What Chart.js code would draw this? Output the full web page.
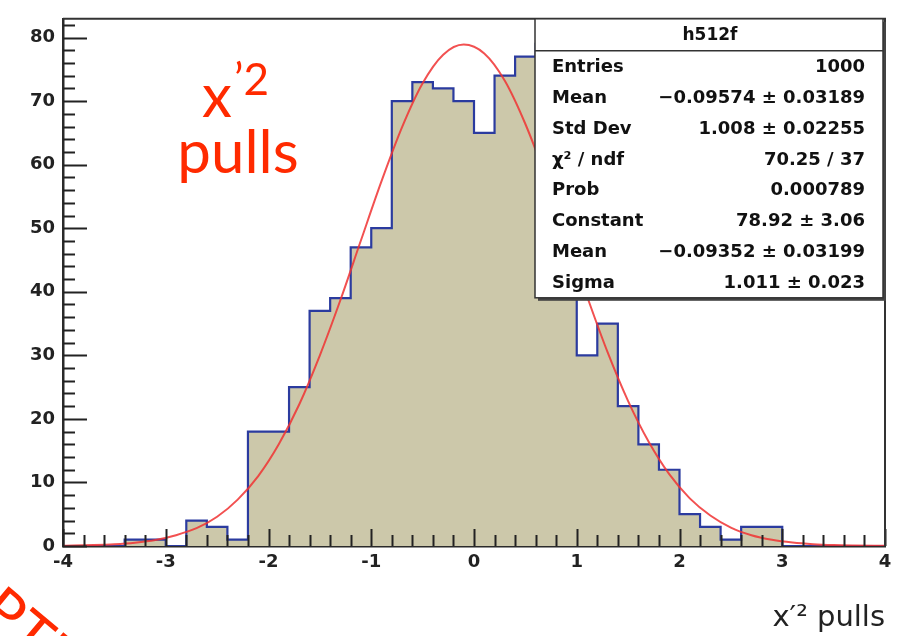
<!DOCTYPE html>
<html><head><meta charset="utf-8">
<script src="https://cdn.jsdelivr.net/npm/chart.js@4/dist/chart.umd.min.js"></script>
<style>html,body{margin:0;padding:0;background:#fff;} canvas{display:block;}</style>
</head><body>
<canvas id="c" width="908" height="636"></canvas>
<script>
// ---- data ----
const binLowEdges = [-4.0,-3.8,-3.6,-3.4,-3.2,-3.0,-2.8,-2.6,-2.4,-2.2,-2.0,-1.8,-1.6,-1.4,-1.2,-1.0,-0.8,-0.6,-0.4,-0.2,0.0,0.2,0.4,0.6,0.8,1.0,1.2,1.4,1.6,1.8,2.0,2.2,2.4,2.6,2.8,3.0,3.2,3.4,3.6,3.8];
const binHighEdge = 4.0;
const binCounts = [0,0,0,1,1,0,4,3,1,18,18,25,37,39,47,50,70,73,72,70,65,74,77,79,46,30,35,22,16,12,5,3,1,3,3,0,0,0,0,0];
const fitX = [-4.0,-3.9,-3.7,-3.5,-3.3,-3.1,-2.9,-2.7,-2.5,-2.3,-2.1,-1.9,-1.7,-1.5,-1.3,-1.1,-0.9,-0.7,-0.5,-0.3,-0.1,0.1,0.3,0.5,0.7,0.9,1.1,1.3,1.5,1.7,1.9,2.1,2.3,2.5,2.7,2.9,3.1,3.3,3.5,3.7,3.9,4.0];
const fitY = [0.05,0.07,0.14,0.27,0.52,0.95,1.7,2.8,4.6,7.3,11.0,16.0,22.3,30.0,38.7,48.1,57.4,65.9,72.8,77.3,78.9,77.5,73.2,66.4,58.0,48.7,39.3,30.5,22.8,16.4,11.3,7.5,4.8,2.9,1.7,0.98,0.54,0.28,0.14,0.07,0.03,0.02];
const xTickLabels = ['-4','-3','-2','-1','0','1','2','3','4'];
const yTickLabels = ['0','10','20','30','40','50','60','70','80'];
const histName = 'h512f';
const statLabels = ['Entries','Mean','Std Dev','\u03C7\u00B2 / ndf','Prob','Constant','Mean','Sigma'];
const statValues = ['1000','\u22120.09574 \u00B1 0.03189','1.008 \u00B1 0.02255','70.25 / 37','0.000789','78.92 \u00B1 3.06','\u22120.09352 \u00B1 0.03199','1.011 \u00B1 0.023'];
const xTitle = 'x\u2032\u00B2 pulls';
const noteLine1 = 'x';
const noteSup = '\u20192';
const noteLine2 = 'pulls';
const noteFragment = 'OPTI';

// ---- build ----
const histPoints = binLowEdges.map((x, i) => ({x: x, y: binCounts[i]}));
histPoints.push({x: binHighEdge, y: 0});
const fitPoints = fitX.map((x, i) => ({x: x, y: fitY[i]}));

const labelFont = {family: "'DejaVu Sans'", size: 18, weight: 'bold'};

const rootStyle = {
  id: 'rootStyle',
  afterDraw(chart) {
    const {ctx, chartArea: a, scales} = chart;
    const x = scales.x, y = scales.y;
    ctx.save();
    // inward tick marks
    ctx.strokeStyle = '#222';
    ctx.lineWidth = 2;
    ctx.beginPath();
    const nx = Math.round((x.max - x.min) / 0.2);
    for (let k = 0; k <= nx; k++) {
      const px = Math.round(x.getPixelForValue(x.min + k * 0.2)) + 0.5;
      const len = (k % 5 === 0) ? 17 : 11;
      ctx.moveTo(px, a.bottom);
      ctx.lineTo(px, a.bottom - len);
    }
    for (let k = 0; k * 2 <= y.max; k++) {
      const py = Math.round(y.getPixelForValue(k * 2)) + 0.5;
      const len = (k % 5 === 0) ? 24 : 12;
      ctx.moveTo(a.left, py);
      ctx.lineTo(a.left + len, py);
    }
    ctx.stroke();
    // frame top and right
    ctx.strokeStyle = '#333';
    ctx.lineWidth = 2;
    ctx.beginPath();
    ctx.moveTo(a.left, a.top);
    ctx.lineTo(a.right, a.top);
    ctx.lineTo(a.right, a.bottom);
    ctx.stroke();

    // stats box
    const bx1 = a.right - 2, by0 = a.top, bx0 = bx1 - 348, by1 = by0 + 279;
    ctx.fillStyle = '#444';
    ctx.fillRect(bx0 + 3, by0 + 3, bx1 - bx0, by1 - by0);
    ctx.fillStyle = '#fff';
    ctx.fillRect(bx0, by0, bx1 - bx0, by1 - by0);
    ctx.strokeStyle = '#333';
    ctx.lineWidth = 1.5;
    ctx.strokeRect(bx0, by0, bx1 - bx0, by1 - by0);
    const sep = by0 + 32;
    ctx.beginPath();
    ctx.moveTo(bx0, sep); ctx.lineTo(bx1, sep);
    ctx.stroke();
    ctx.fillStyle = '#111';
    ctx.font = "bold 17px 'DejaVu Sans'";
    ctx.textBaseline = 'middle';
    ctx.textAlign = 'center';
    ctx.fillText(histName, (bx0 + bx1) / 2 + 1, by0 + 17);
    const rowH = (by1 - sep) / statLabels.length;
    ctx.font = "bold 18px 'DejaVu Sans'";
    statLabels.forEach((lab, i) => {
      const cy = sep + rowH * (i + 0.5) + 1;
      ctx.textAlign = 'left';
      ctx.fillText(lab, bx0 + 17, cy);
      ctx.textAlign = 'right';
      ctx.fillText(statValues[i], bx1 - 18, cy);
    });

    // red annotation
    ctx.fillStyle = '#ff2a00';
    ctx.textBaseline = 'alphabetic';
    ctx.textAlign = 'left';
    ctx.font = "60px Lato";
    ctx.fillText(noteLine1, 202, 117);
    ctx.font = "44px Lato";
    ctx.fillText(noteSup, 234, 95);
    ctx.font = "60px Lato";
    ctx.textAlign = 'center';
    ctx.fillText(noteLine2, 238, 173);
    // clipped fragment at bottom-left
    ctx.save();
    ctx.translate(-60, 585);
    ctx.rotate(40 * Math.PI / 180);
    ctx.textAlign = 'left';
    ctx.font = "60px Lato";
    ctx.fillText(noteFragment, 0, 0);
    ctx.restore();
    ctx.restore();
  }
};

new Chart(document.getElementById('c'), {
  type: 'line',
  data: {
    datasets: [
      {
        label: 'fit',
        data: fitPoints,
        borderColor: 'rgba(240,50,50,0.85)',
        borderWidth: 2,
        pointRadius: 0,
        fill: false,
        cubicInterpolationMode: 'monotone'
      },
      {
        label: histName,
        data: histPoints,
        stepped: 'before',
        borderColor: '#2b3b9f',
        borderWidth: 2.2,
        backgroundColor: '#ccc8aa',
        fill: 'origin',
        pointRadius: 0,
        tension: 0
      }
    ]
  },
  options: {
    responsive: false,
    animation: false,
    devicePixelRatio: 1,
    layout: {padding: {left: 0, top: 14, right: 23, bottom: 0}},
    plugins: {legend: {display: false}, tooltip: {enabled: false}, title: {display: false}},
    scales: {
      x: {
        type: 'linear', min: -4, max: 4, z: 1,
        afterFit(s) { s.height = 90; },
        grid: {display: false, drawTicks: false},
        border: {display: true, color: '#2a2a2a', width: 2.5},
        ticks: {
          stepSize: 1, includeBounds: false, autoSkip: false, maxRotation: 0,
          padding: 6, color: '#222', font: labelFont,
          callback: (v, i) => xTickLabels[i]
        },
        title: {
          display: true, text: xTitle, align: 'end', color: '#222',
          font: {family: "'DejaVu Sans'", size: 29},
          padding: {top: 0, bottom: 0}
        }
      },
      y: {
        type: 'linear', min: 0, max: 82.95, z: 1,
        afterFit(s) { s.width = 63; },
        grid: {display: false, drawTicks: false},
        border: {display: true, color: '#2a2a2a', width: 2.5},
        ticks: {
          stepSize: 10, includeBounds: false, autoSkip: false,
          padding: 8, color: '#222', font: labelFont,
          callback: (v, i) => yTickLabels[i]
        }
      }
    }
  },
  plugins: [rootStyle]
});
</script>
</body></html>
